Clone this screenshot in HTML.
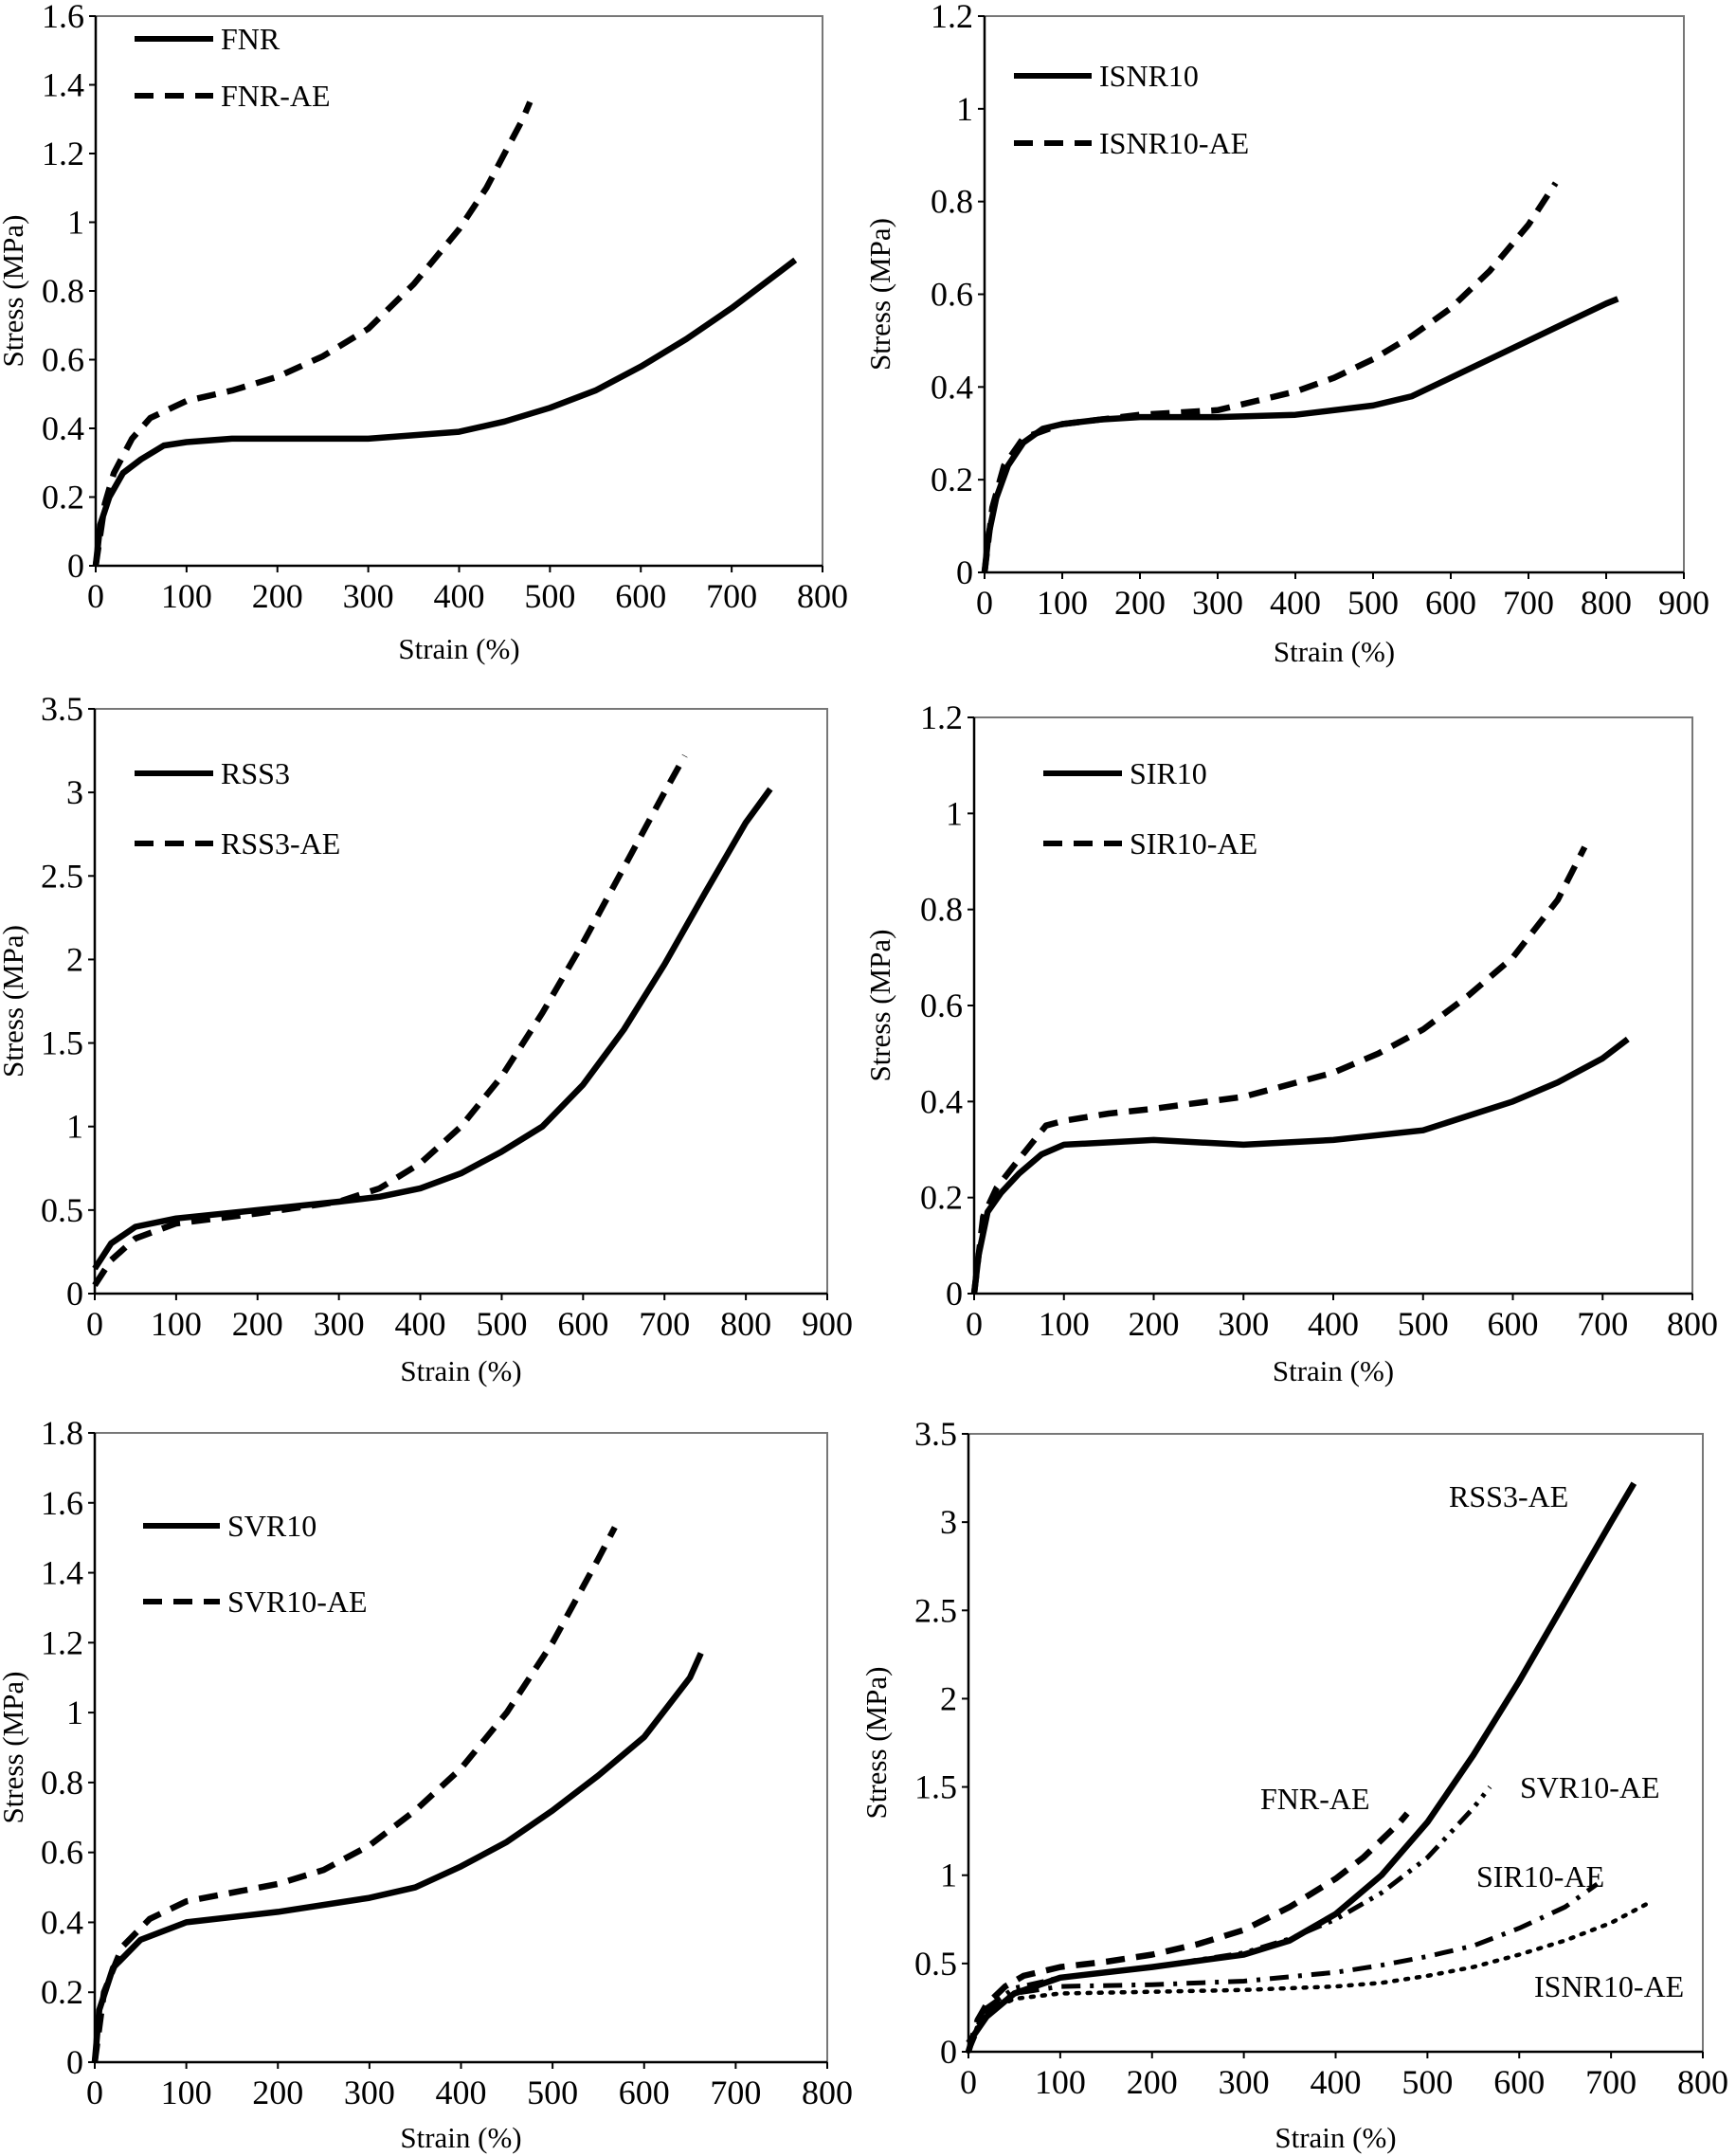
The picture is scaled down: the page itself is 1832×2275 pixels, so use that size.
<!DOCTYPE html>
<html><head><meta charset="utf-8">
<style>
html,body{margin:0;padding:0;background:#fff;}
svg{display:block;}
text{font-family:"Liberation Serif","DejaVu Serif",serif;}
</style></head>
<body>
<svg id="fig" width="1832" height="2275" viewBox="0 0 1832 2275" xmlns="http://www.w3.org/2000/svg"></svg>
<script>
// ---- data arrays (strain %, stress MPa) ----
const fnrX = [0,5,15,30,50,75,100,150,200,300,350,400,450,500,550,600,650,700,750,770];
const fnrY = [0,0.12,0.2,0.27,0.31,0.35,0.36,0.37,0.37,0.37,0.38,0.39,0.42,0.46,0.51,0.58,0.66,0.75,0.85,0.89];
const fnrAeX = [0,10,20,40,60,100,150,200,250,300,350,400,430,450,470,478];
const fnrAeY = [0,0.18,0.27,0.37,0.43,0.48,0.51,0.55,0.61,0.69,0.82,0.98,1.1,1.2,1.3,1.35];
const isnrX = [0,5,15,30,50,75,100,150,200,300,400,500,550,600,650,700,750,800,815];
const isnrY = [0,0.08,0.16,0.23,0.28,0.31,0.32,0.33,0.335,0.335,0.34,0.36,0.38,0.42,0.46,0.5,0.54,0.58,0.59];
const isnrAeX = [0,10,25,50,100,200,300,350,400,450,500,550,600,650,700,735];
const isnrAeY = [0,0.14,0.23,0.29,0.32,0.34,0.35,0.37,0.39,0.42,0.46,0.51,0.57,0.65,0.75,0.84];
const rssX = [0,20,50,100,200,300,350,400,450,500,550,600,650,700,750,800,830];
const rssY = [0.15,0.3,0.4,0.45,0.5,0.55,0.58,0.63,0.72,0.85,1.0,1.25,1.58,1.97,2.4,2.82,3.02];
const rssAeX = [0,20,50,100,200,300,350,400,450,500,550,600,650,700,725];
const rssAeY = [0.05,0.2,0.33,0.42,0.48,0.55,0.63,0.78,1.0,1.3,1.68,2.1,2.55,3.0,3.22];
const sirX = [0,5,15,30,50,75,100,200,300,400,500,550,600,650,700,728];
const sirY = [0,0.08,0.17,0.21,0.25,0.29,0.31,0.32,0.31,0.32,0.34,0.37,0.4,0.44,0.49,0.53];
const sirAeX = [0,10,25,50,80,100,150,200,300,400,450,500,550,600,650,680];
const sirAeY = [0,0.16,0.22,0.28,0.35,0.36,0.375,0.385,0.41,0.46,0.5,0.55,0.62,0.7,0.82,0.93];
const svrX = [0,5,20,50,100,200,300,350,400,450,500,550,600,650,662];
const svrY = [0,0.15,0.27,0.35,0.4,0.43,0.47,0.5,0.56,0.63,0.72,0.82,0.93,1.1,1.17];
const svrAeX = [0,10,30,60,100,200,250,300,350,400,450,500,550,568];
const svrAeY = [0,0.2,0.33,0.41,0.46,0.51,0.55,0.62,0.72,0.84,1.0,1.2,1.44,1.53];
const combIsnrX = [0,10,25,50,100,200,300,400,450,500,550,600,650,700,740];
const combIsnrY = [0,0.15,0.24,0.3,0.33,0.34,0.35,0.37,0.39,0.43,0.48,0.55,0.63,0.73,0.84];
const combSirX = [0,10,25,50,100,200,300,400,450,500,550,600,650,685];
const combSirY = [0,0.15,0.25,0.33,0.37,0.38,0.4,0.45,0.49,0.54,0.6,0.7,0.82,0.95];
const combSvrX = [0,20,50,100,200,300,350,400,450,500,550,568];
const combSvrY = [0,0.25,0.36,0.42,0.48,0.56,0.64,0.75,0.9,1.1,1.38,1.5];
const yTicks16 = [0,0.2,0.4,0.6,0.8,1,1.2,1.4,1.6];
const yTicks12 = [0,0.2,0.4,0.6,0.8,1,1.2];
const yTicks35 = [0,0.5,1,1.5,2,2.5,3,3.5];
const yTicks18 = [0,0.2,0.4,0.6,0.8,1,1.2,1.4,1.6,1.8];
const xTicks800 = [0,100,200,300,400,500,600,700,800];
const xTicks900 = [0,100,200,300,400,500,600,700,800,900];

const NS = "http://www.w3.org/2000/svg";
const FONT = '"Liberation Serif", serif';
const svg = document.getElementById('fig');
function el(tag, attrs, parent){
  const e = document.createElementNS(NS, tag);
  for (const k in attrs) e.setAttribute(k, attrs[k]);
  if (tag === 'text') e.setAttribute('font-family', FONT);
  (parent||svg).appendChild(e);
  return e;
}
const DASH = {solid:null, dash:"20 12", dot:"3 9", dashdot:"20 10 4 10", dashdotdot:"18 8 4 8 4 8"};

function panel(cfg){
  const g = el('g',{});
  
  
  const L=cfg.L, R=cfg.R, T=cfg.T, B=cfg.B;
  const xs = v => L + v / cfg.xmax * (R - L);
  const ys = v => B - v / cfg.ymax * (B - T);
  const frame = el('rect',{x:L,y:T,width:R-L,height:B-T,fill:'none',stroke:'#777','stroke-width':2},g);
  
  
  const xa = el('line',{x1:L,y1:B,x2:R,y2:B,stroke:'#000','stroke-width':2.5},g);
  
  
  const ya = el('line',{x1:L,y1:T,x2:L,y2:B,stroke:'#000','stroke-width':2.5},g);
  
  
  cfg.xt.forEach(v=>{
    el('line',{x1:xs(v),y1:B,x2:xs(v),y2:B+7,stroke:'#000','stroke-width':2},g);
    const t = el('text',{x:xs(v),y:B+44,'font-size':36,'text-anchor':'middle'},g);
    t.textContent = v;
    
    
  });
  cfg.yt.forEach(v=>{
    el('line',{x1:L-7,y1:ys(v),x2:L,y2:ys(v),stroke:'#000','stroke-width':2},g);
    const t = el('text',{x:L-12,y:ys(v)+12,'font-size':36,'text-anchor':'end'},g);
    t.textContent = v;
    
    
  });
  const xt = el('text',{x:(L+R)/2,y:cfg.xty,'font-size':31,'text-anchor':'middle'},g);
  xt.textContent = 'Strain (%)';
  
  
  const yc = (T+B)/2;
  const yt = el('text',{x:cfg.ytx,y:yc,'font-size':31,'text-anchor':'middle',transform:`rotate(-90 ${cfg.ytx} ${yc})`},g);
  yt.textContent = 'Stress (MPa)';
  
  
  cfg.series.forEach(s=>{
    const d = s.x.map((v,i)=>(i?'L':'M')+xs(v).toFixed(1)+','+ys(s.y[i]).toFixed(1)).join(' ');
    const a = {d:d,fill:'none',stroke:'#000','stroke-width':s.w||6.5,'stroke-linejoin':'round','stroke-linecap':s.style==='dot'?'round':'butt'};
    if (DASH[s.style]) a['stroke-dasharray'] = DASH[s.style];
    const p = el('path',a,g);
    
    
  });
  (cfg.legend||[]).forEach(lg=>{
    const a = {x1:lg.x1,y1:lg.y,x2:lg.x2,y2:lg.y,stroke:'#000','stroke-width':6};
    if (DASH[lg.style]) a['stroke-dasharray'] = DASH[lg.style];
    const ln = el('line',a,g);
    
    
    const t = el('text',{x:lg.x2+8,y:lg.y+11,'font-size':32},g);
    t.textContent = lg.label;
    
    
  });
  (cfg.labels||[]).forEach(lb=>{
    const t = el('text',{x:lb.x,y:lb.y,'font-size':32},g);
    t.textContent = lb.text;
    
    
  });
}

panel({name:'fnr-panel',L:101,R:868,T:17,B:597,xmax:800,ymax:1.6,xt:xTicks800,yt:yTicks16,xty:695,ytx:24,
  series:[{name:'fnr-line',x:fnrX,y:fnrY,style:'solid'},{name:'fnr-ae-line',x:fnrAeX,y:fnrAeY,style:'dash'}],
  legend:[{x1:142,x2:225,y:41,style:'solid',label:'FNR'},{x1:142,x2:225,y:101,style:'dash',label:'FNR-AE'}]});
panel({name:'isnr10-panel',L:1039,R:1777,T:17,B:604,xmax:900,ymax:1.2,xt:xTicks900,yt:yTicks12,xty:698,ytx:939,
  series:[{name:'isnr10-line',x:isnrX,y:isnrY,style:'solid'},{name:'isnr10-ae-line',x:isnrAeX,y:isnrAeY,style:'dash'}],
  legend:[{x1:1070,x2:1152,y:80,style:'solid',label:'ISNR10'},{x1:1070,x2:1152,y:151,style:'dash',label:'ISNR10-AE'}]});
panel({name:'rss3-panel',L:100,R:873,T:748,B:1365,xmax:900,ymax:3.5,xt:xTicks900,yt:yTicks35,xty:1457,ytx:24,
  series:[{name:'rss3-line',x:rssX,y:rssY,style:'solid'},{name:'rss3-ae-line',x:rssAeX,y:rssAeY,style:'dash'}],
  legend:[{x1:142,x2:225,y:816,style:'solid',label:'RSS3'},{x1:142,x2:225,y:890,style:'dash',label:'RSS3-AE'}]});
panel({name:'sir10-panel',L:1028,R:1786,T:757,B:1365,xmax:800,ymax:1.2,xt:xTicks800,yt:yTicks12,xty:1457,ytx:939,
  series:[{name:'sir10-line',x:sirX,y:sirY,style:'solid'},{name:'sir10-ae-line',x:sirAeX,y:sirAeY,style:'dash'}],
  legend:[{x1:1101,x2:1184,y:816,style:'solid',label:'SIR10'},{x1:1101,x2:1184,y:890,style:'dash',label:'SIR10-AE'}]});
panel({name:'svr10-panel',L:100,R:873,T:1512,B:2176,xmax:800,ymax:1.8,xt:xTicks800,yt:yTicks18,xty:2266,ytx:24,
  series:[{name:'svr10-line',x:svrX,y:svrY,style:'solid'},{name:'svr10-ae-line',x:svrAeX,y:svrAeY,style:'dash'}],
  legend:[{x1:151,x2:232,y:1610,style:'solid',label:'SVR10'},{x1:151,x2:232,y:1690,style:'dash',label:'SVR10-AE'}]});
panel({name:'comparison-panel',L:1022,R:1797,T:1513,B:2165,xmax:800,ymax:3.5,xt:xTicks800,yt:yTicks35,xty:2266,ytx:935,
  series:[{name:'rss3-ae-combined',x:rssAeX,y:rssAeY,style:'solid'},
          {name:'fnr-ae-combined',x:fnrAeX,y:fnrAeY,style:'dash'},
          {name:'svr10-ae-combined',x:combSvrX,y:combSvrY,style:'dashdotdot',w:5},
          {name:'sir10-ae-combined',x:combSirX,y:combSirY,style:'dashdot',w:5},
          {name:'isnr10-ae-combined',x:combIsnrX,y:combIsnrY,style:'dot',w:4.5}],
  labels:[{text:'RSS3-AE',x:1529,y:1590},{text:'FNR-AE',x:1330,y:1909},{text:'SVR10-AE',x:1604,y:1897},
          {text:'SIR10-AE',x:1558,y:1991},{text:'ISNR10-AE',x:1619,y:2107}]});
</script>
</body></html>
